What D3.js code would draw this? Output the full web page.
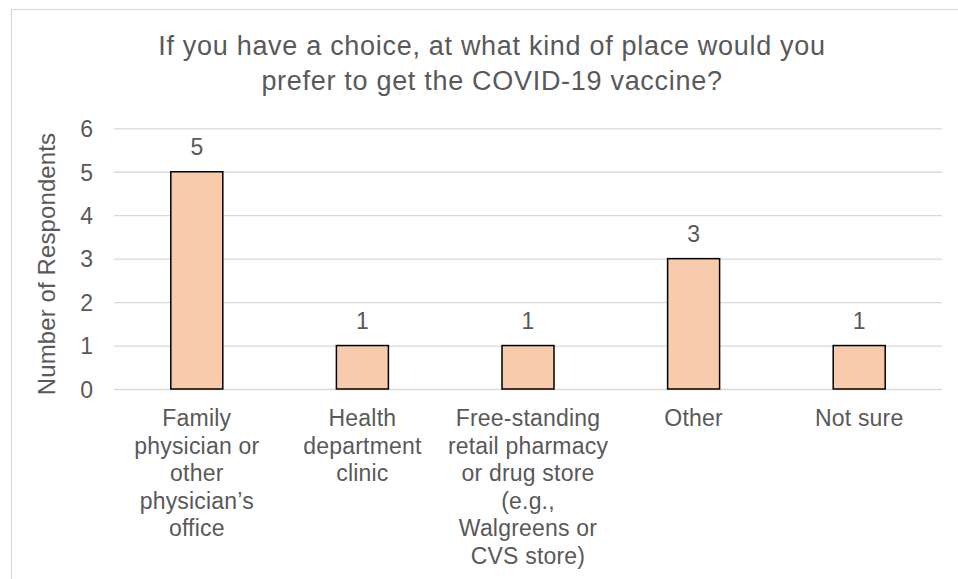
<!DOCTYPE html>
<html>
<head>
<meta charset="utf-8">
<script src="https://cdn.jsdelivr.net/npm/d3@7"></script>
<style>
  html, body { margin: 0; padding: 0; background: #fff; }
  svg { display: block; font-family: "Liberation Sans", Arial, sans-serif; }
</style>
</head>
<body>
<svg id="chart" width="958" height="579"></svg>
<script>
const categories = [
  "Family physician or other physician’s office",
  "Health department clinic",
  "Free-standing retail pharmacy or drug store (e.g., Walgreens or CVS store)",
  "Other",
  "Not sure"
];
const categoryLines = [
  ["Family", "physician or", "other", "physician’s", "office"],
  ["Health", "department", "clinic"],
  ["Free-standing", "retail pharmacy", "or drug store", "(e.g.,", "Walgreens or", "CVS store)"],
  ["Other"],
  ["Not sure"]
];
const values = [5, 1, 1, 3, 1];
const yTicks = [0, 1, 2, 3, 4, 5, 6];
const titleLines = [
  "If you have a choice, at what kind of place would you",
  "prefer to get the COVID-19 vaccine?"
];
const yAxisTitle = "Number of Respondents";

const svg = d3.select("#chart");
const textColor = "#595959";
const gridColor = "#d9d9d9";

// chart border (extends beyond the cropped view)
svg.append("rect")
  .attr("x", 11.5).attr("y", 9.5)
  .attr("width", 1000).attr("height", 700)
  .attr("fill", "#fff")
  .attr("stroke", gridColor).attr("stroke-width", 1.2);

const x = d3.scaleBand()
  .domain(categories)
  .range([114, 942])
  .paddingInner(0.686)
  .paddingOuter(0.343);

const y = d3.scaleLinear().domain([0, 6]).range([389, 128.3]);

// gridlines + tick labels via axis
const yAxis = d3.axisLeft(y).tickValues(yTicks).tickSize(-(942 - 114)).tickPadding(21).tickFormat(d3.format("d"));
const gAxis = svg.append("g").attr("transform", "translate(114,0)").call(yAxis);
gAxis.select(".domain").remove();
gAxis.selectAll(".tick line").attr("stroke", gridColor).attr("stroke-width", 1.3);
gAxis.selectAll(".tick text")
  .attr("fill", textColor)
  .attr("font-size", 23)
  .attr("font-family", "Liberation Sans, Arial, sans-serif")
  .attr("dy", "0.36em");

// bars
svg.append("g").selectAll("rect")
  .data(values)
  .join("rect")
  .attr("x", (d, i) => x(categories[i]))
  .attr("y", d => y(d))
  .attr("width", x.bandwidth())
  .attr("height", d => y(0) - y(d))
  .attr("fill", "#F8CBAD")
  .attr("stroke", "#000")
  .attr("stroke-width", 1.5);

// data labels
svg.append("g").selectAll("text")
  .data(values)
  .join("text")
  .attr("x", (d, i) => x(categories[i]) + x.bandwidth() / 2)
  .attr("y", d => y(d) - 17)
  .attr("text-anchor", "middle")
  .attr("font-size", 23)
  .attr("fill", textColor)
  .text(d => d);

// category labels
const catG = svg.append("g");
categoryLines.forEach((lines, i) => {
  const cx = x(categories[i]) + x.bandwidth() / 2;
  const t = catG.append("text")
    .attr("text-anchor", "middle")
    .attr("font-size", 23)
    .attr("letter-spacing", 0.2)
    .attr("fill", textColor);
  lines.forEach((ln, j) => {
    t.append("tspan").attr("x", cx).attr("y", 426 + j * 27.5).text(ln);
  });
});

// y axis title
svg.append("text")
  .attr("transform", "translate(55,264) rotate(-90)")
  .attr("text-anchor", "middle")
  .attr("font-size", 24)
  .attr("letter-spacing", 0.1)
  .attr("fill", textColor)
  .text(yAxisTitle);

// title
const title = svg.append("text")
  .attr("text-anchor", "middle")
  .attr("font-size", 27)
  .attr("letter-spacing", 0.7)
  .attr("fill", textColor);
titleLines.forEach((ln, j) => {
  title.append("tspan").attr("x", 492).attr("y", 54.5 + j * 35).text(ln);
});
</script>
</body>
</html>
